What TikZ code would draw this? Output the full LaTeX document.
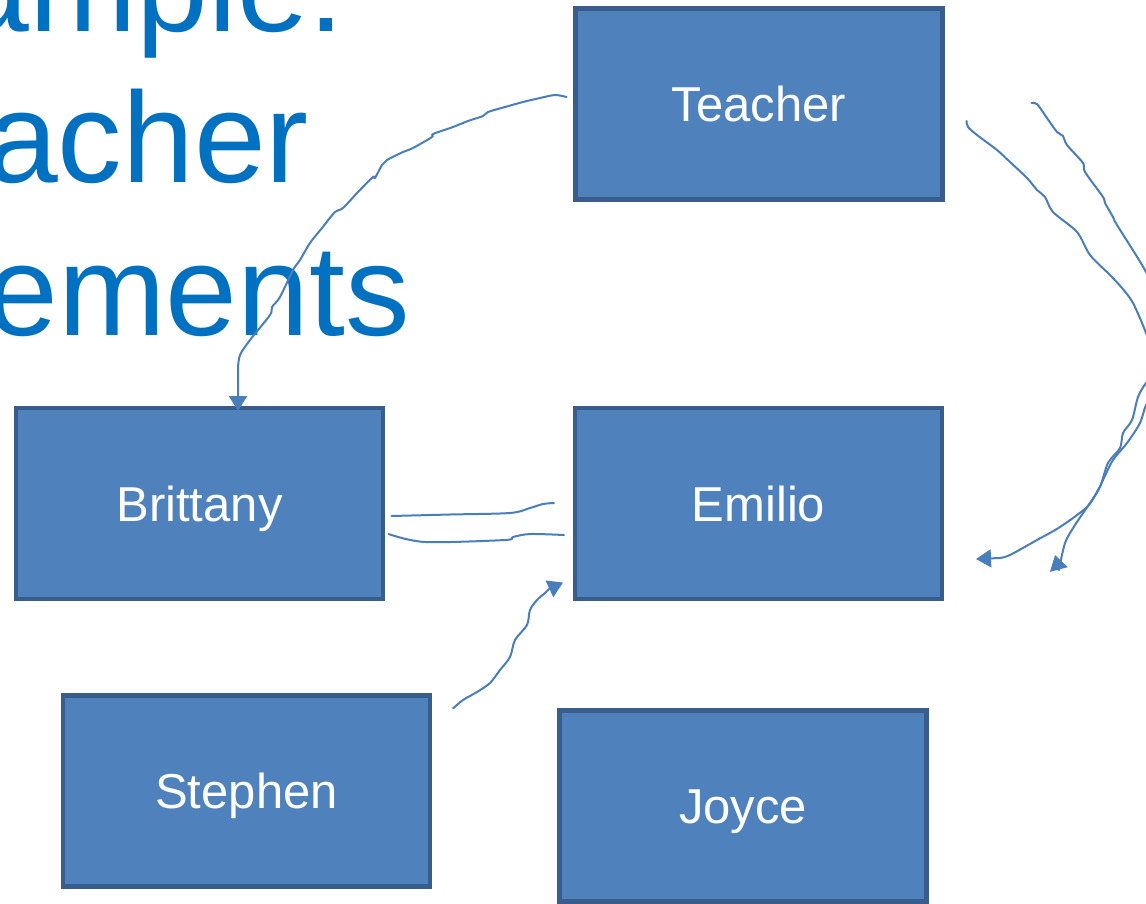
\documentclass[tikz,border=0pt]{standalone}
\usepackage{fontspec}
\setmainfont{Liberation Sans}
\usetikzlibrary{arrows.meta,calc}
\definecolor{boxfill}{HTML}{4F81BD}
\definecolor{boxline}{HTML}{385D8A}
\definecolor{inkblue}{HTML}{4A7EBB}
\definecolor{titleblue}{HTML}{0070C0}
\begin{document}
\begin{tikzpicture}[x=1pt,y=-1pt,
  person/.style={rectangle,draw=boxline,fill=boxfill,line width=4.5pt,
    minimum width=367pt,minimum height=191pt,inner sep=0pt,outer sep=0pt,
    text=white,font=\fontsize{49}{55}\selectfont,text height=35pt,text depth=0pt},
  titletext/.style={text=titleblue,font=\fontsize{129}{150}\selectfont,inner sep=0pt,anchor=base east},
  conn/.style={draw=inkblue,line width=2pt,line cap=round,line join=round},
  tip/.style={-{Triangle[width=18pt,length=15pt]}}]
\useasboundingbox (0,0) rectangle (1146,903);
\clip (0,0) rectangle (1146,903);
\fill[white] (0,0) rectangle (1146,903);
% title fragments
\node[titletext] (t1) at (345,31) {ample:};
\node[titletext] (t2) at (309,182) {acher};
\node[titletext] (t3) at (410,335) {ements};
% boxes
\node[person] (teacher) at (759,104) {Teacher};
\node[person] (brittany) at (199.5,503.5) {Brittany};
\node[person] (emilio) at (758.5,503.5) {Emilio};
\node[person] (stephen) at (246.5,791) {Stephen};
\node[person] (joyce) at (743,806) {Joyce};
% anchors for connector ends
\coordinate (tb0) at ([xshift=-9pt,yshift=7pt]teacher.west);
\coordinate (tb1) at ([xshift=38.5pt,yshift=-3pt]brittany.north);
\coordinate (be0) at ([xshift=8.5pt,yshift=-12.5pt]brittany.east);
\coordinate (be1) at ([xshift=-21pt,yshift=0.5pt]emilio.west);
\coordinate (eb0) at ([xshift=-11pt,yshift=-31.5pt]emilio.west);
\coordinate (eb1) at ([xshift=5.5pt,yshift=-30.5pt]brittany.east);
\coordinate (se0) at ([xshift=23pt,yshift=-13pt]stephen.north east);
\coordinate (se1) at ([xshift=-12pt,yshift=16.5pt]emilio.south west);
\coordinate (te0) at ([xshift=24pt,yshift=-17pt]teacher.east);
\coordinate (te1) at ([xshift=34pt,yshift=-55.5pt]emilio.east);
\coordinate (tf0) at ([xshift=89pt,yshift=1pt]teacher.east);
\coordinate (tf1) at ([xshift=113pt,yshift=-51.5pt]emilio.east);
% Teacher -> Brittany
\draw[conn,tip] plot[smooth,tension=0.5] coordinates {(tb0) (555,95) (540,98) (523,102) (505,107) (488,112) (483,116) (468,121) (453,127) (433,134) (432,137) (413,148) (403,152) (387,160) (382,165) (375,178) (373,177) (358,192) (343,208) (335,212) (322,228) (310,243) (300,260) (293,270) (280,297) (272,307) (270,315) (250,340) (240,355) (238,368)} -- (tb1);
% Brittany -- Emilio (two strokes)
\draw[conn] plot[smooth,tension=0.5] coordinates {(be0) (450,514.5) (510,513) (530,508) (543,504) (be1)};
\draw[conn] plot[smooth,tension=0.5] coordinates {(eb0) (530,534) (513,537) (505,540) (425,542) (eb1)};
% Stephen -> Emilio
\draw[conn,tip] plot[smooth,tension=0.5] coordinates {(se0) (463,700) (477,692) (490,683) (500,670) (510,657) (515,640) (527,625) (530,610) (537,600) (545,593) (549,589)} -- (se1);
% Teacher -> Emilio (two strokes round the right side)
\draw[conn,tip] plot[smooth,tension=0.5] coordinates {(te0) (968,127) (977,135) (997,150) (1010,162) (1027,178) (1037,190) (1045,197) (1053,212) (1077,232) (1090,255) (1110,275) (1122,288) (1133,303) (1146,333) (1156,365) (1155,392) (1146,405) (1140,423) (1127,443) (1113,460) (1103,480) (1098,490) (1087,507) (1060,527) (1037,540) (1010,555) (1000,558)} -- (te1);
\draw[conn,tip] plot[smooth,tension=0.5] coordinates {(tf0) (1037,104) (1047,118) (1057,132) (1063,136) (1067,145) (1083,163) (1085,172) (1103,197) (1105,203) (1113,217) (1117,225) (1146,272) (1162,310) (1166,350) (1156,372) (1146,383) (1138,397) (1132,420) (1123,433) (1120,448) (1108,463) (1100,487) (1090,503) (1075,525) (1065,543) (1059,570)} -- (tf1);
\end{tikzpicture}
\end{document}
